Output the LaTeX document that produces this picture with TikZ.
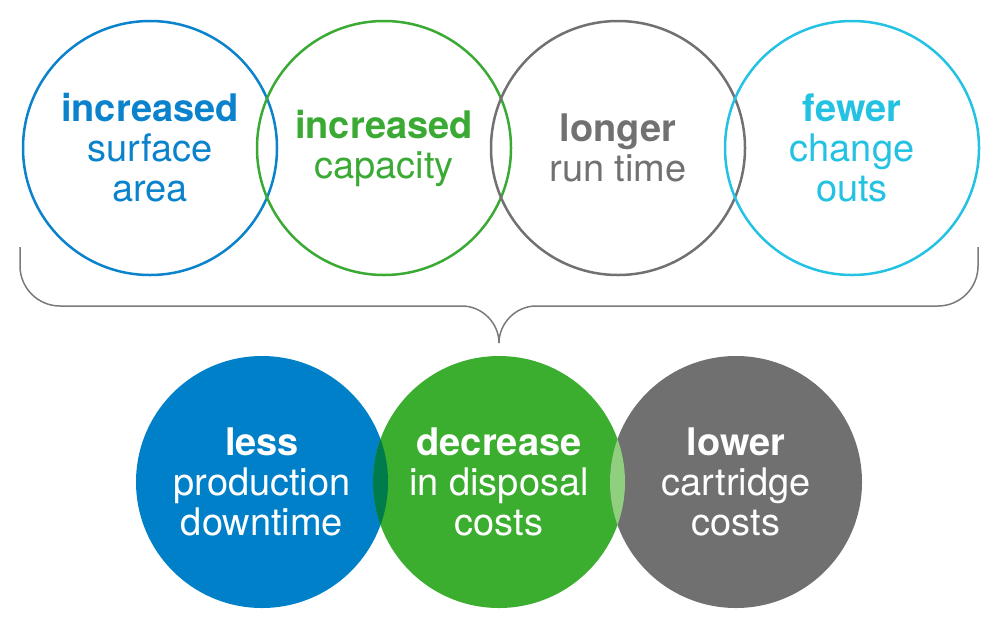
\documentclass[tikz,border=0pt]{standalone}
\usepackage{fontspec}
\setmainfont{TeX Gyre Heros}
\usepackage{xcolor}
\usepackage{tikz}
\usetikzlibrary{positioning, calc}

\definecolor{ringblue}{HTML}{0A82CC}
\definecolor{ringgreen}{HTML}{3AAA35}
\definecolor{ringgray}{HTML}{717171}
\definecolor{ringcyan}{HTML}{24C2E2}
\definecolor{discblue}{HTML}{0080C9}
\definecolor{discgreen}{HTML}{3BAD2F}
\definecolor{discgray}{HTML}{6F706F}
\definecolor{lensdark}{HTML}{007B4B}
\definecolor{lenslight}{HTML}{8FCF7D}
\definecolor{bracegray}{HTML}{7A7A7A}

\tikzset{
  ring/.style={circle, draw=#1, text=#1, line width=2.5pt, minimum size=254pt,
    inner sep=0pt, align=center, font=\fontsize{38}{40}\selectfont},
  disc/.style={circle, fill=#1, text=white, minimum size=252pt,
    inner sep=0pt, align=center, font=\fontsize{38}{40}\selectfont},
  bracket/.style={draw=bracegray, line width=1.5pt}
}

\begin{document}
\begin{tikzpicture}[x=1pt,y=-1pt]
  \useasboundingbox (0,0) rectangle (1000,630);

  % Top row: outlined circles
  \node[ring=ringblue] (surface) at (150,148) {\textbf{increased}\\surface\\area};
  \node[ring=ringgreen] (capacity) at (384,148) {\textbf{increased}\\capacity};
  \node[ring=ringgray] (runtime) at (618,148) {\textbf{longer}\\run time};
  \node[ring=ringcyan] (changeouts) at (852,148) {\textbf{fewer}\\change\\outs};

  % Bracket under the top row
  \coordinate (bl) at (20,247);
  \coordinate (br) at (978,247);
  \coordinate (tip) at (499,343);
  \draw[bracket] (bl) -- ++(0,19) .. controls (20,288) and (38,306) .. (60,306)
    -- (462,306) .. controls (482,306) and (499,323) .. (tip);
  \draw[bracket] (br) -- ++(0,19) .. controls (978,288) and (960,306) .. (938,306)
    -- (536,306) .. controls (516,306) and (499,323) .. (tip);

  % Bottom row: filled circles
  \node[disc=discblue] (downtime) at (262,482) {\textbf{less}\\production\\downtime};
  \node[disc=discgreen] (disposal) at (499,482) {\textbf{decrease}\\in disposal\\costs};
  \node[disc=discgray] (cartridge) at (736,482) {\textbf{lower}\\cartridge\\costs};

  % Overlaps
  \begin{scope}
    \clip (downtime.center) circle[radius=126pt];
    \fill[lensdark] (disposal.center) circle[radius=126pt];
  \end{scope}
  \begin{scope}
    \clip (cartridge.center) circle[radius=126pt];
    \fill[lenslight] (disposal.center) circle[radius=126pt];
  \end{scope}
\end{tikzpicture}
\end{document}
